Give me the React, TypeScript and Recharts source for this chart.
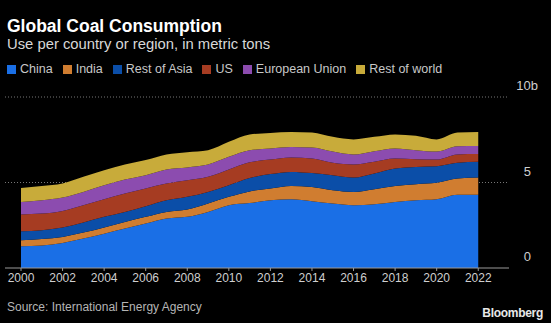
import React from 'react';
import { AreaChart, Area, XAxis, YAxis, CartesianGrid } from 'recharts';

// Coal consumption, billion metric tons
const years = [2000, 2001, 2002, 2003, 2004, 2005, 2006, 2007, 2008, 2009, 2010, 2011,
  2012, 2013, 2014, 2015, 2016, 2017, 2018, 2019, 2020, 2021, 2022];
const china = [1.27, 1.31, 1.46, 1.72, 2.01, 2.31, 2.6, 2.89, 2.99, 3.28, 3.67, 3.8,
  3.96, 4.02, 3.91, 3.77, 3.67, 3.73, 3.86, 3.96, 4.02, 4.28, 4.28];
const india = [0.35, 0.39, 0.36, 0.35, 0.36, 0.38, 0.39, 0.39, 0.43, 0.49, 0.49, 0.68,
  0.69, 0.78, 0.83, 0.78, 0.78, 0.88, 0.94, 0.94, 0.96, 0.95, 1.01];
const restOfAsia = [0.53, 0.51, 0.55, 0.59, 0.62, 0.59, 0.62, 0.68, 0.74, 0.68, 0.68, 0.78,
  0.84, 0.82, 0.81, 0.88, 0.84, 0.92, 1.02, 1.01, 0.97, 0.92, 0.92];
const us = [0.98, 0.97, 0.97, 1.01, 1.03, 1.07, 1.04, 0.98, 0.97, 0.88, 0.92, 0.92,
  0.85, 0.84, 0.85, 0.72, 0.76, 0.68, 0.58, 0.45, 0.39, 0.49, 0.45];
const eu = [0.73, 0.78, 0.78, 0.78, 0.82, 0.82, 0.78, 0.82, 0.75, 0.72, 0.74, 0.7,
  0.65, 0.62, 0.65, 0.66, 0.59, 0.62, 0.59, 0.53, 0.47, 0.48, 0.48];
const restOfWorld = [0.82, 0.84, 0.82, 0.88, 0.88, 0.88, 0.88, 0.88, 0.89, 0.84, 0.88, 0.93,
  0.91, 0.88, 0.87, 0.86, 0.88, 0.84, 0.82, 0.84, 0.71, 0.8, 0.81];

const xTicks = [2000, 2002, 2004, 2006, 2008, 2010, 2012, 2014, 2016, 2018, 2020, 2022];
const yTicks = [0, 5, 10];

const series = [
  { key: 'china', name: 'China', color: '#1a6fe6' },
  { key: 'india', name: 'India', color: '#d07d30' },
  { key: 'restOfAsia', name: 'Rest of Asia', color: '#0b4ea8' },
  { key: 'us', name: 'US', color: '#a63c22' },
  { key: 'eu', name: 'European Union', color: '#8c4caf' },
  { key: 'restOfWorld', name: 'Rest of world', color: '#c8ab3a' },
];

const data = years.map((year, i) => ({
  year,
  china: china[i],
  india: india[i],
  restOfAsia: restOfAsia[i],
  us: us[i],
  eu: eu[i],
  restOfWorld: restOfWorld[i],
}));

const font = '"Liberation Sans", Arial, sans-serif';

const YTick = (props: any) => {
  const { x, y, payload } = props;
  const label = payload.value === 10 ? '10b' : String(payload.value);
  return (
    <text x={payload.value === 10 ? x + 21 : x + 14} y={y - 7} textAnchor="end" fill="#cfcfcf"
      fontSize={13} fontFamily={font}>
      {label}
    </text>
  );
};

export default function App() {
  return (
    <div style={{ position: 'absolute', left: 0, top: 0, width: 551, height: 323, background: '#000', overflow: 'hidden', fontFamily: font }}>
      <div style={{ position: 'absolute', left: 7, top: 16, color: '#fff', fontSize: 17.5, fontWeight: 'bold' }}>
        Global Coal Consumption
      </div>
      <div style={{ position: 'absolute', left: 7, top: 36, color: '#d8d8d8', fontSize: 14.8 }}>
        Use per country or region, in metric tons
      </div>
      <div style={{ position: 'absolute', left: 7, top: 62, display: 'flex', color: '#c8c8c8', fontSize: 12.5 }}>
        {series.map(s => (
          <div key={s.key} style={{ display: 'flex', alignItems: 'center', marginRight: 10 }}>
            <span style={{ width: 9, height: 9, background: s.color, display: 'inline-block', marginRight: 4 }} />
            <span>{s.name}</span>
          </div>
        ))}
      </div>
      <div style={{ position: 'absolute', left: 0, top: 0 }}>
        <AreaChart width={551} height={323} data={data} margin={{ top: 97, right: 21, bottom: 25, left: 5 }}>
          <CartesianGrid vertical={false} stroke="#777" strokeDasharray="1 2" horizontalValues={[5, 10]} />
          <XAxis dataKey="year" type="number" domain={[1999.23, 2023.48]} ticks={xTicks} height={30}
            axisLine={{ stroke: '#9a9a9a' }} tickLine={{ stroke: '#9a9a9a' }} tickSize={3}
            tick={{ fill: '#cfcfcf', fontSize: 12, fontFamily: font }} interval={0} />
          <YAxis orientation="right" domain={[0, 10]} ticks={yTicks} width={21} axisLine={false}
            tickLine={false} tick={<YTick />} interval={0} />
          {series.map(s => (
            <Area key={s.key} dataKey={s.key} name={s.name} stackId="1" type="monotone"
              stroke="none" fill={s.color} fillOpacity={1} isAnimationActive={false} />
          ))}
        </AreaChart>
      </div>
      <div style={{ position: 'absolute', left: 7, top: 300, color: '#b5b5b5', fontSize: 12 }}>
        Source: International Energy Agency
      </div>
      <div style={{ position: 'absolute', right: 8, top: 306, color: '#e8e8e8', fontSize: 12, fontWeight: 'bold', letterSpacing: -0.3 }}>
        Bloomberg
      </div>
    </div>
  );
}
